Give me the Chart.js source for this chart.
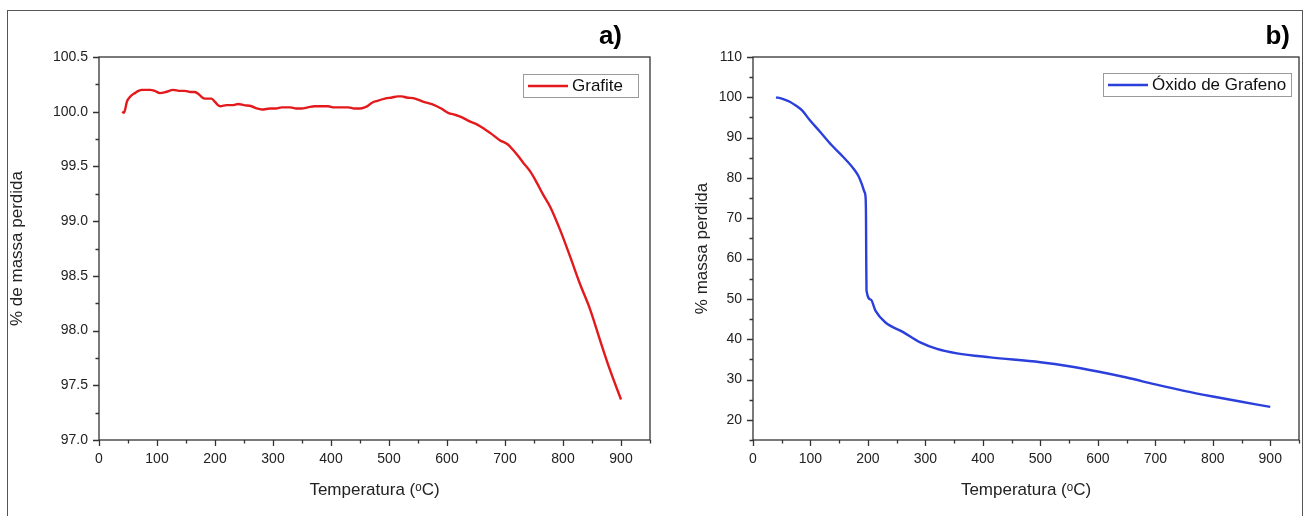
<!DOCTYPE html>
<html>
<head>
<meta charset="utf-8">
<script src="https://cdn.jsdelivr.net/npm/chart.js@4.4.1/dist/chart.umd.min.js"></script>
<style>
  body { margin: 0; background: #fff; }
  #wrap { position: relative; width: 1310px; height: 516px; overflow: hidden; }
  #outline { position: absolute; left: 7px; top: 10px; width: 1294px; height: 520px; border: 1px solid #555; }
  canvas { position: absolute; top: 0; }
  #c1 { left: 0; }
  #c2 { left: 655px; }
</style>
</head>
<body>
<div id="wrap">
  <div id="outline"></div>
  <canvas id="c1" width="655" height="516"></canvas>
  <canvas id="c2" width="655" height="516"></canvas>
</div>
<script>
// Grafite (a)
const tempGrafite = [40, 43, 45, 48, 51, 56, 62, 68, 74, 88, 96, 105, 115, 128, 140, 148, 158, 165, 172, 178,
  183, 194, 200, 205, 209, 220, 230, 240, 250, 263, 272, 281, 295, 305, 315, 330, 340, 349, 360, 372,
  384, 395, 405, 418, 430, 440, 450, 458, 465, 470, 480, 493, 505, 515, 522, 530, 545, 560, 574, 590,
  602, 615, 625, 640, 653, 665, 676, 691, 705, 714, 722, 732, 744, 755, 766, 778, 795, 812, 829, 847,
  864, 881, 900];
const massGrafite = [100.00, 99.99, 100.02, 100.09, 100.12, 100.15, 100.17, 100.19, 100.20, 100.20, 100.19, 100.17, 100.18, 100.20, 100.19, 100.19, 100.18, 100.18, 100.16, 100.13,
  100.12, 100.12, 100.09, 100.06, 100.05, 100.06, 100.06, 100.07, 100.06, 100.05, 100.03, 100.02, 100.03, 100.03, 100.04, 100.04, 100.03, 100.03, 100.04, 100.05,
  100.05, 100.05, 100.04, 100.04, 100.04, 100.03, 100.03, 100.04, 100.06, 100.08, 100.10, 100.12, 100.13, 100.14, 100.14, 100.13, 100.12, 100.09, 100.07, 100.03,
  99.99, 99.97, 99.95, 99.91, 99.88, 99.84, 99.80, 99.74, 99.70, 99.65, 99.60, 99.53, 99.45, 99.35, 99.24, 99.13, 98.92, 98.68, 98.43, 98.19,
  97.91, 97.64, 97.37];

// Oxido de grafeno (b)
const tempGO = [40, 50, 64, 75, 85, 99, 117, 137, 157, 175, 183, 189, 194, 196, 196.6, 197, 197.5, 205, 213, 230,
  262, 291, 320, 355, 413, 500, 550, 600, 650, 700, 750, 800, 850, 900];
const massGO = [100.0, 99.7, 98.9, 97.9, 96.8, 94.3, 91.4, 88.1, 85.2, 82.3, 80.6, 78.6, 76.5, 74.9, 70.5, 60.0, 52.1, 49.8, 47.1, 44.2,
  41.7, 39.2, 37.6, 36.5, 35.5, 34.3, 33.3, 32.0, 30.5, 28.8, 27.2, 25.8, 24.5, 23.2];

const xTicks = [0, 100, 200, 300, 400, 500, 600, 700, 800, 900];
const yTicksA = [97.0, 97.5, 98.0, 98.5, 99.0, 99.5, 100.0, 100.5];
const yTicksB = [20, 30, 40, 50, 60, 70, 80, 90, 100, 110];

const FONT = '"Liberation Sans", Arial, sans-serif';
const AXIS = '#333';

// frame, minor/major ticks, legend box and panel letter
const decor = {
  id: 'decor',
  afterDraw(chart, args, o) {
    const { ctx, chartArea: a, scales: { x, y } } = chart;
    ctx.save();
    ctx.strokeStyle = AXIS;
    ctx.lineWidth = 1.3;
    ctx.strokeRect(a.left, a.top, a.right - a.left, a.bottom - a.top);

    ctx.beginPath();
    const nx = Math.round((x.max - x.min) / o.xMinor);
    for (let i = 0; i <= nx; i++) {
      const v = x.min + i * o.xMinor;
      const major = Math.abs(v / o.xMajor - Math.round(v / o.xMajor)) < 1e-6;
      const px = Math.round(x.getPixelForValue(v)) + 0.5;
      ctx.moveTo(px, a.bottom);
      ctx.lineTo(px, a.bottom + (major ? 6 : 3.5));
    }
    const ny = Math.round((y.max - y.min) / o.yMinor);
    for (let i = 0; i <= ny; i++) {
      const v = y.min + i * o.yMinor;
      const major = Math.abs(v / o.yMajor - Math.round(v / o.yMajor)) < 1e-6;
      const py = Math.round(y.getPixelForValue(v)) + 0.5;
      ctx.moveTo(a.left, py);
      ctx.lineTo(a.left - (major ? 6 : 3.5), py);
    }
    ctx.stroke();

    // legend
    const ds = chart.data.datasets[0];
    const lg = o.legend;
    ctx.fillStyle = '#fff';
    ctx.fillRect(lg.x, lg.y, lg.w, lg.h);
    ctx.strokeStyle = '#9a9a9a';
    ctx.lineWidth = 1;
    ctx.strokeRect(lg.x + 0.5, lg.y + 0.5, lg.w, lg.h);
    ctx.strokeStyle = ds.borderColor;
    ctx.lineWidth = 2.5;
    ctx.beginPath();
    ctx.moveTo(lg.x + 5, lg.y + lg.h / 2 + 0.5);
    ctx.lineTo(lg.x + 45, lg.y + lg.h / 2 + 0.5);
    ctx.stroke();
    ctx.fillStyle = '#111';
    ctx.font = '17px ' + FONT;
    ctx.textBaseline = 'middle';
    ctx.textAlign = 'left';
    ctx.fillText(ds.label, lg.x + 49, lg.y + lg.h / 2 + 1);

    // panel letter
    ctx.font = 'bold 26px ' + FONT;
    ctx.textAlign = 'right';
    ctx.textBaseline = 'alphabetic';
    ctx.fillStyle = '#000';
    ctx.fillText(o.letter, o.letterX, 44);
    ctx.restore();
  }
};

function makeChart(id, temps, mass, label, color, yMin, yMax, yTicks, yDigits, yWidth, titlePad, padRight, extra) {
  const points = temps.map((t, i) => ({ x: t, y: mass[i] }));
  return new Chart(document.getElementById(id), {
    type: 'line',
    data: {
      datasets: [{
        label: label,
        data: points,
        borderColor: color,
        backgroundColor: color,
        borderWidth: 2.4,
        pointRadius: 0,
        cubicInterpolationMode: 'monotone',
        fill: false
      }]
    },
    options: {
      responsive: false,
      animation: false,
      layout: { padding: { top: 57, right: padRight, left: 0, bottom: 0 } },
      plugins: { legend: { display: false }, tooltip: { enabled: false }, decor: extra },
      scales: {
        x: {
          type: 'linear',
          min: 0,
          max: 950,
          afterBuildTicks: s => { s.ticks = xTicks.map(v => ({ value: v })); },
          afterFit: s => { s.height = 76; },
          grid: { display: false, drawTicks: false },
          border: { display: false },
          ticks: { color: '#222', font: { family: FONT, size: 14 }, padding: 11, maxRotation: 0 },
          title: { display: true, text: 'Temperatura (ᵒC)', color: '#222', font: { family: FONT, size: 17 }, padding: { top: 0, bottom: 15 } }
        },
        y: {
          min: yMin,
          max: yMax,
          afterBuildTicks: s => { s.ticks = yTicks.map(v => ({ value: v })); },
          afterFit: s => { s.width = yWidth; },
          grid: { display: false, drawTicks: false },
          border: { display: false },
          ticks: { color: '#222', font: { family: FONT, size: 14 }, padding: 11, callback: v => v.toFixed(yDigits) },
          title: { display: true, text: extra.yTitle, color: '#222', font: { family: FONT, size: 17 }, padding: { top: titlePad, bottom: 0 } }
        }
      }
    },
    plugins: [decor]
  });
}

makeChart('c1', tempGrafite, massGrafite, 'Grafite', '#e3191c', 97.0, 100.5, yTicksA, 1, 99, 7, 5, {
  xMinor: 50, xMajor: 100, yMinor: 0.25, yMajor: 0.5,
  legend: { x: 523, y: 74, w: 115, h: 23 },
  letter: 'a)', letterX: 622,
  yTitle: '% de massa perdida'
});

makeChart('c2', tempGO, massGO, 'Óxido de Grafeno', '#2b3fdc', 15, 110, yTicksB, 0, 98, 37, 11, {
  xMinor: 50, xMajor: 100, yMinor: 5, yMajor: 10,
  legend: { x: 448, y: 73, w: 188, h: 23 },
  letter: 'b)', letterX: 635,
  yTitle: '% massa perdida'
});
</script>
</body>
</html>
